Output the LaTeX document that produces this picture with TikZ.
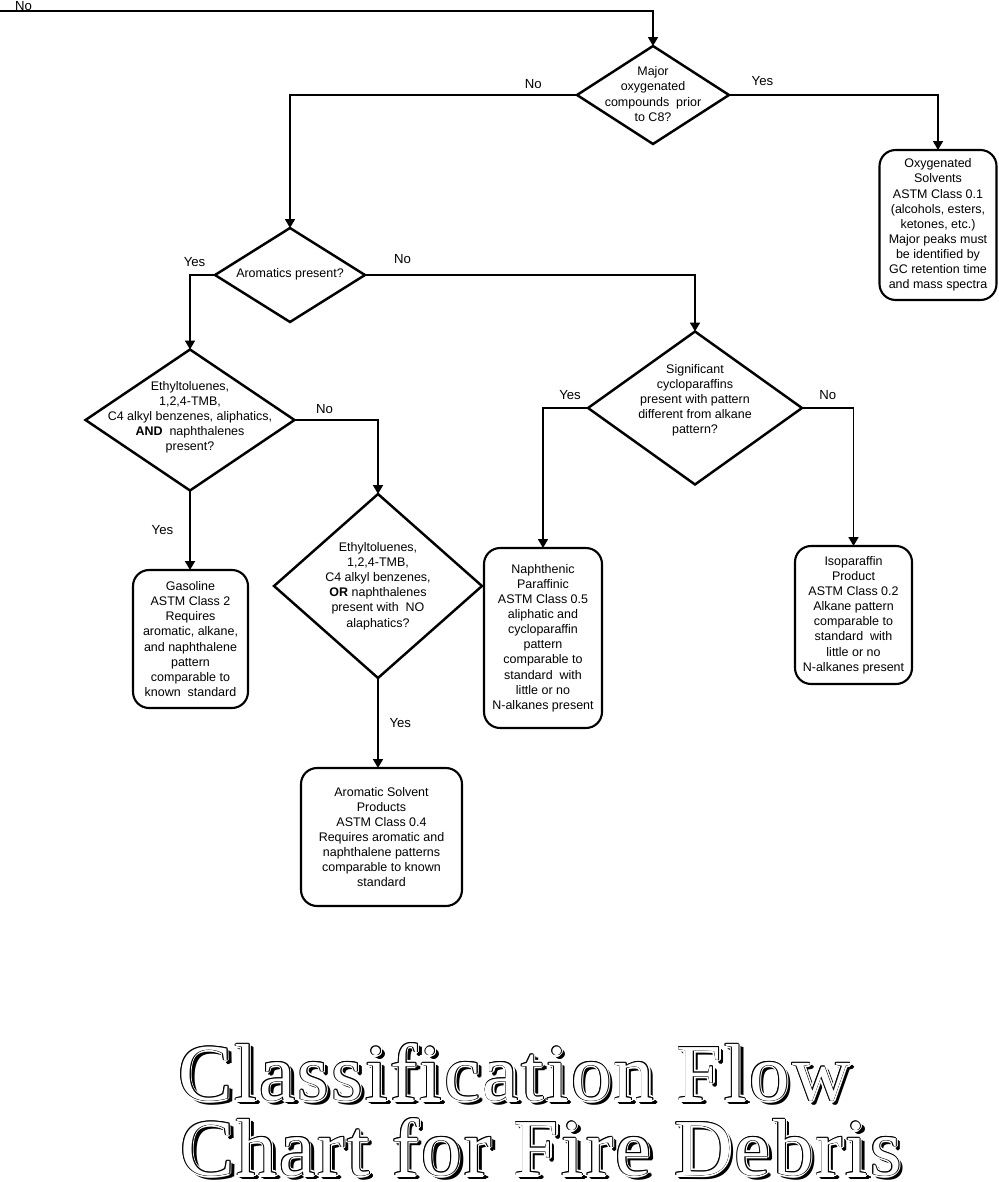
\documentclass[tikz,border=0pt]{standalone}
\usepackage{fontspec}
\setmainfont{Liberation Sans}
\newfontfamily\titlefont[LetterSpace=3]{Liberation Serif}
\usetikzlibrary{shapes.geometric,arrows.meta}

\newcommand\bodyfont{\fontsize{7.1}{8.6}\selectfont}
\newcommand\lblfont{\fontsize{7.5}{9}\selectfont}

% hollow lettering with a drop shadow
\newdimen\ringr
\newcommand\stamp[3]{\rlap{\hspace*{#1}\raisebox{#2}{#3}}}
\newcommand\hollowtext[1]{%
  \ringr=0.7pt%
  \foreach \dx/\dy in {0/0,1/0,0/1,-1/0,0/-1}{\stamp{\dimexpr2pt+\dx\ringr\relax}{\dimexpr-2pt+\dy\ringr\relax}{\color{black}#1}}%
  \ringr=1.2pt%
  \foreach \dx/\dy in {1/0,0.7/0.7,0/1,-0.7/0.7,-1/0,-0.7/-0.7,0/-1,0.7/-0.7}{\stamp{\dx\ringr}{\dy\ringr}{\color{white}#1}}%
  \ringr=0.55pt%
  \foreach \dx/\dy in {1/0,0.7/0.7,0/1,-0.7/0.7,-1/0,-0.7/-0.7,0/-1,0.7/-0.7}{\stamp{\dx\ringr}{\dy\ringr}{\color{black}#1}}%
  {\color{white}#1}%
}

\begin{document}
\begin{tikzpicture}[x=0.02cm, y=-0.02cm,
    decision/.style={draw, shape=diamond, line width=1.4pt, inner sep=0pt, outer sep=0pt},
    result/.style={draw, rectangle, rounded corners=0.32cm, line width=1.2pt, align=center, inner sep=0pt, outer sep=0pt, font=\bodyfont},
    words/.style={align=center, font=\bodyfont},
    flow/.style={line width=1.1pt, -{Triangle[length=5pt,width=5.5pt]}},
    lbl/.style={font=\lblfont, inner sep=1pt}]
    \useasboundingbox (0,0) rectangle (998,1182);

    % decisions
    \node[decision, minimum width=3.04cm, minimum height=1.96cm] (oxy) at (653,95) {};
    \node[words] (oxyq) at (653,94) {Major\\oxygenated\\compounds\ \ prior\\to C8?};
    \node[decision, minimum width=3cm, minimum height=1.88cm] (aro) at (290,275) {};
    \node[words] (aroq) at (290,274) {Aromatics present?};
    \node[decision, minimum width=4.18cm, minimum height=2.82cm] (all) at (190,420) {};
    \node[words] (allq) at (190,417) {Ethyltoluenes,\\1,2,4-TMB,\\C4 alkyl benzenes, aliphatics,\\\textbf{AND}\ \ naphthalenes\\present?};
    \node[decision, minimum width=4.16cm, minimum height=3.68cm] (any) at (378,586) {};
    \node[words] (anyq) at (378,586) {Ethyltoluenes,\\1,2,4-TMB,\\C4 alkyl benzenes,\\\textbf{OR}\ naphthalenes\\present with\ \ NO\\alaphatics?};
    \node[decision, minimum width=4.28cm, minimum height=3.06cm] (cyc) at (695,408) {};
    \node[words] (cycq) at (695,400) {Significant\\cycloparaffins\\present\ with\ pattern\\different from alkane\\pattern?};

    % results
    \node[result, minimum width=2.34cm, minimum height=3cm] (solv) at (938,225) {Oxygenated\\Solvents\\ASTM Class 0.1\\(alcohols, esters,\\ketones,\ etc.)\\Major peaks must\\be identified by\\GC retention time\\and mass spectra};
    \node[result, minimum width=2.3cm, minimum height=2.76cm] (gas) at (190.5,639) {Gasoline\\ASTM Class 2\\Requires\\aromatic, alkane,\\and naphthalene\\pattern\\comparable to\\known\ \ standard};
    \node[result, minimum width=3.22cm, minimum height=2.76cm] (arom) at (381.5,837) {Aromatic Solvent\\Products\\ASTM Class 0.4\\Requires aromatic and\\naphthalene\ patterns\\comparable to known\\standard};
    \node[result, minimum width=2.36cm, minimum height=3.6cm] (naph) at (543,638) {Naphthenic\\Paraffinic\\ASTM Class 0.5\\aliphatic and\\cycloparaffin\\pattern\\comparable to\\standard\ \ with\\little or no\\N-alkanes present};
    \node[result, minimum width=2.34cm, minimum height=2.76cm] (iso) at (853.5,615) {Isoparaffin\\Product\\ASTM Class 0.2\\Alkane pattern\\comparable to\\standard\ \ with\\little or no\\N-alkanes present};

    % connectors
    \coordinate (top) at (0,11);
    \draw[flow] (top) -| (oxy.north) node[lbl, above=-1.5pt, pos=0.018] {No};
    \draw[flow] (oxy.west) -| (aro.north) node[lbl, above=2pt, pos=0.076] {No};
    \draw[flow] (oxy.east) -| (solv.north) node[lbl, above=4pt, pos=0.08] {Yes};
    \draw[flow] (aro.west) -| (all.north) node[lbl, above=3pt, pos=0.41] {Yes};
    \draw[flow] (aro.east) -| (cyc.north) node[lbl, above=5pt, pos=0.057] {No};
    \draw[flow] (all.south) -- (all.south |- gas.north) node[lbl, left=8pt, midway] {Yes};
    \draw[flow] (all.east) -| (any.north) node[lbl, above=2pt, pos=0.18] {No};
    \draw[flow] (any.south) -- (any.south |- arom.north) node[lbl, right=5pt, midway] {Yes};
    \draw[flow] (cyc.west) -| (naph.north) node[lbl, above=3pt, pos=0.2] {Yes};
    \draw[flow] (cyc.east) -| (iso.north) node[lbl, above=3pt, pos=0.25] {No};

    % title
    \node[anchor=base west, inner sep=0pt, font=\titlefont\fontsize{46}{58}\selectfont] (title1) at (178,1100) {\hollowtext{Classification Flow}};
    \node[anchor=base west, inner sep=0pt, font=\titlefont\fontsize{46}{58}\selectfont] (title2) at (180,1175) {\hollowtext{Chart for Fire Debris}};
\end{tikzpicture}
\end{document}
